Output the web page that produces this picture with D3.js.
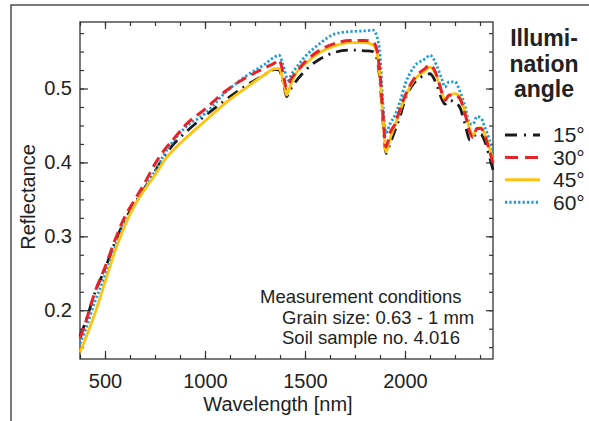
<!DOCTYPE html>
<html>
<head>
<meta charset="utf-8">
<script src="https://cdn.jsdelivr.net/npm/d3@7"></script>
<style>
	html, body { margin:0; padding:0; background:#fff; }
	svg { display:block; font-family:"Liberation Sans", Arial, sans-serif; }
</style>
</head>
<body>
<svg id="chart" width="589" height="421"></svg>
<script>
'use strict';
/*
 *
 *	Data
 *
 */
var wavelength = [375, 400, 450, 500, 550, 600, 650, 700, 750, 800, 850, 900, 1000, 1100, 1200, 1300, 1350, 1370, 1390, 1408, 1417, 1430, 1450, 1500, 1575, 1650, 1725, 1800, 1840, 1860, 1875, 1890, 1905, 1925, 1950, 1975, 2000, 2050, 2100, 2125, 2160, 2185, 2200, 2220, 2250, 2275, 2300, 2325, 2340, 2360, 2380, 2400, 2420, 2440];

var refl15 = [0.165, 0.182, 0.224, 0.256, 0.292, 0.322, 0.345, 0.366, 0.388, 0.410, 0.427, 0.440, 0.463, 0.484, 0.503, 0.519, 0.526, 0.525, 0.510, 0.489, 0.493, 0.500, 0.508, 0.524, 0.540, 0.549, 0.552, 0.551, 0.550, 0.540, 0.510, 0.455, 0.412, 0.425, 0.443, 0.462, 0.485, 0.509, 0.518, 0.520, 0.504, 0.485, 0.479, 0.484, 0.481, 0.474, 0.452, 0.430, 0.434, 0.439, 0.438, 0.428, 0.410, 0.390];
var refl30 = [0.162, 0.181, 0.225, 0.258, 0.295, 0.327, 0.350, 0.373, 0.398, 0.418, 0.434, 0.450, 0.472, 0.496, 0.514, 0.528, 0.535, 0.539, 0.522, 0.500, 0.505, 0.513, 0.520, 0.536, 0.552, 0.561, 0.565, 0.565, 0.563, 0.552, 0.520, 0.465, 0.421, 0.440, 0.452, 0.472, 0.490, 0.515, 0.527, 0.532, 0.517, 0.494, 0.484, 0.491, 0.491, 0.486, 0.466, 0.440, 0.434, 0.446, 0.446, 0.436, 0.418, 0.399];
var refl45 = [0.143, 0.160, 0.196, 0.238, 0.280, 0.315, 0.343, 0.364, 0.383, 0.404, 0.419, 0.432, 0.456, 0.480, 0.500, 0.519, 0.527, 0.527, 0.512, 0.491, 0.496, 0.506, 0.518, 0.533, 0.549, 0.558, 0.562, 0.562, 0.559, 0.548, 0.515, 0.460, 0.414, 0.432, 0.450, 0.470, 0.488, 0.513, 0.524, 0.529, 0.515, 0.494, 0.484, 0.491, 0.493, 0.488, 0.468, 0.444, 0.437, 0.446, 0.447, 0.437, 0.422, 0.401];
var refl60 = [0.155, 0.172, 0.212, 0.247, 0.285, 0.318, 0.343, 0.366, 0.388, 0.413, 0.432, 0.447, 0.466, 0.494, 0.516, 0.533, 0.543, 0.545, 0.532, 0.515, 0.511, 0.518, 0.526, 0.543, 0.561, 0.574, 0.577, 0.578, 0.579, 0.570, 0.545, 0.478, 0.440, 0.452, 0.464, 0.482, 0.505, 0.531, 0.540, 0.545, 0.530, 0.512, 0.502, 0.509, 0.509, 0.496, 0.476, 0.452, 0.452, 0.462, 0.460, 0.447, 0.432, 0.410];

var angleLabels = ["15°", "30°", "45°", "60°"];
var xMajor = [500, 1000, 1500, 2000];
var yMajor = [0.2, 0.3, 0.4, 0.5];
var noteLines = ["Measurement conditions", "Grain size: 0.63 - 1 mm", "Soil sample no. 4.016"];

/*
 *
 *	Scales and frame
 *
 */
var svg = d3.select("#chart");
var pLeft = 80, pRight = 493, pTop = 22, pBottom = 359;
var axisColor = "#333";

var x = d3.scaleLinear().domain([375, 2440]).range([pLeft, pRight]);
var y = d3.scaleLinear().domain([0.134, 0.59]).range([pBottom, pTop]);

// outer figure border (runs off the picture right and bottom)
svg.append("rect")
	.attr("x", 11).attr("y", 5)
	.attr("width", 700).attr("height", 600)
	.attr("fill", "none").attr("stroke", axisColor).attr("stroke-width", 1.3);

// minor ticks every 125 nm / 0.025
var xMinor = d3.range(375, 2441, 125);
var yMinor = d3.range(0.15, 0.59, 0.025);

function styleAxis(g){
	g.select(".domain").remove();
	g.selectAll("line").attr("stroke", axisColor).attr("stroke-width", 1.2);
	g.selectAll("text").attr("fill", "#222").attr("font-size", "20px").attr("font-family", "Liberation Sans, Arial, sans-serif");
}

svg.append("g").attr("transform", "translate(0," + pBottom + ")")
	.call(d3.axisBottom(x).tickValues(xMinor).tickSize(-4).tickFormat("")).call(styleAxis);
svg.append("g").attr("transform", "translate(0," + pTop + ")")
	.call(d3.axisTop(x).tickValues(xMinor).tickSize(-4).tickFormat("")).call(styleAxis);
svg.append("g").attr("transform", "translate(" + pLeft + ",0)")
	.call(d3.axisLeft(y).tickValues(yMinor).tickSize(-4).tickFormat("")).call(styleAxis);
svg.append("g").attr("transform", "translate(" + pRight + ",0)")
	.call(d3.axisRight(y).tickValues(yMinor).tickSize(-4).tickFormat("")).call(styleAxis);

svg.append("g").attr("transform", "translate(0," + pBottom + ")")
	.call(d3.axisBottom(x).tickValues(xMajor).tickSize(-8).tickPadding(15).tickFormat(d3.format("d"))).call(styleAxis);
svg.append("g").attr("transform", "translate(0," + pTop + ")")
	.call(d3.axisTop(x).tickValues(xMajor).tickSize(-7).tickFormat("")).call(styleAxis);
svg.append("g").attr("transform", "translate(" + pLeft + ",0)")
	.call(d3.axisLeft(y).tickValues(yMajor).tickSize(-8).tickPadding(8).tickFormat(d3.format(".1f"))).call(styleAxis);
svg.append("g").attr("transform", "translate(" + pRight + ",0)")
	.call(d3.axisRight(y).tickValues(yMajor).tickSize(-7).tickFormat("")).call(styleAxis);

svg.append("rect")
	.attr("x", pLeft).attr("y", pTop)
	.attr("width", pRight - pLeft).attr("height", pBottom - pTop)
	.attr("fill", "none").attr("stroke", axisColor).attr("stroke-width", 1.3);

// axis titles
svg.append("text")
	.attr("x", 278).attr("y", 411)
	.attr("text-anchor", "middle").attr("font-size", "20px").attr("fill", "#222")
	.text("Wavelength [nm]");
svg.append("text")
	.attr("transform", "translate(35,197) rotate(-90)")
	.attr("text-anchor", "middle").attr("font-size", "20px").attr("fill", "#222")
	.text("Reflectance");

/*
 *
 *	Curves
 *
 */
var series = [
	{values: refl15, color: "#1a1a1a", dash: "12,6,2,6", width: 2.8},
	{values: refl60, color: "#1a9ad8", dash: "2.2,2.2", width: 2.8},
	{values: refl45, color: "#ffc20e", dash: null, width: 2.8},
	{values: refl30, color: "#e5232b", dash: "11,6", width: 3}
];

var line = d3.line()
	.x(function(d){ return x(d[0]); })
	.y(function(d){ return y(d[1]); })
	.curve(d3.curveMonotoneX);

var plot = svg.append("g");
series.forEach(function(s){
	plot.append("path")
		.datum(d3.zip(wavelength, s.values))
		.attr("d", line)
		.attr("fill", "none")
		.attr("stroke", s.color)
		.attr("stroke-width", s.width)
		.attr("stroke-dasharray", s.dash);
});

// note box
noteLines.forEach(function(t, i){
	svg.append("text")
		.attr("x", i == 0 ? 260 : 282)
		.attr("y", 303 + i * 20.5)
		.attr("font-size", "18.5px").attr("fill", "#222")
		.text(t);
});

/*
 *
 *	Legend
 *
 */
var titleLines = ["Illumi-", "nation", "angle"];
titleLines.forEach(function(t, i){
	svg.append("text")
		.attr("x", 544).attr("y", 46 + i * 25.5)
		.attr("text-anchor", "middle")
		.attr("font-size", "23px").attr("font-weight", "bold").attr("fill", "#222")
		.text(t);
});

var legendOrder = [
	{label: angleLabels[0], color: "#1a1a1a", dash: "12,7,2,7"},
	{label: angleLabels[1], color: "#e5232b", dash: "13,7"},
	{label: angleLabels[2], color: "#ffc20e", dash: null},
	{label: angleLabels[3], color: "#1a9ad8", dash: "2.2,2.2"}
];
legendOrder.forEach(function(d, i){
	var ly = 135 + i * 22.4;
	svg.append("line")
		.attr("x1", 505).attr("x2", 540)
		.attr("y1", ly).attr("y2", ly)
		.attr("stroke", d.color).attr("stroke-width", 3)
		.attr("stroke-dasharray", d.dash);
	svg.append("text")
		.attr("x", 553).attr("y", ly)
		.attr("dy", "0.35em")
		.attr("font-size", "21px").attr("fill", "#222")
		.text(d.label);
});
</script>
</body>
</html>
